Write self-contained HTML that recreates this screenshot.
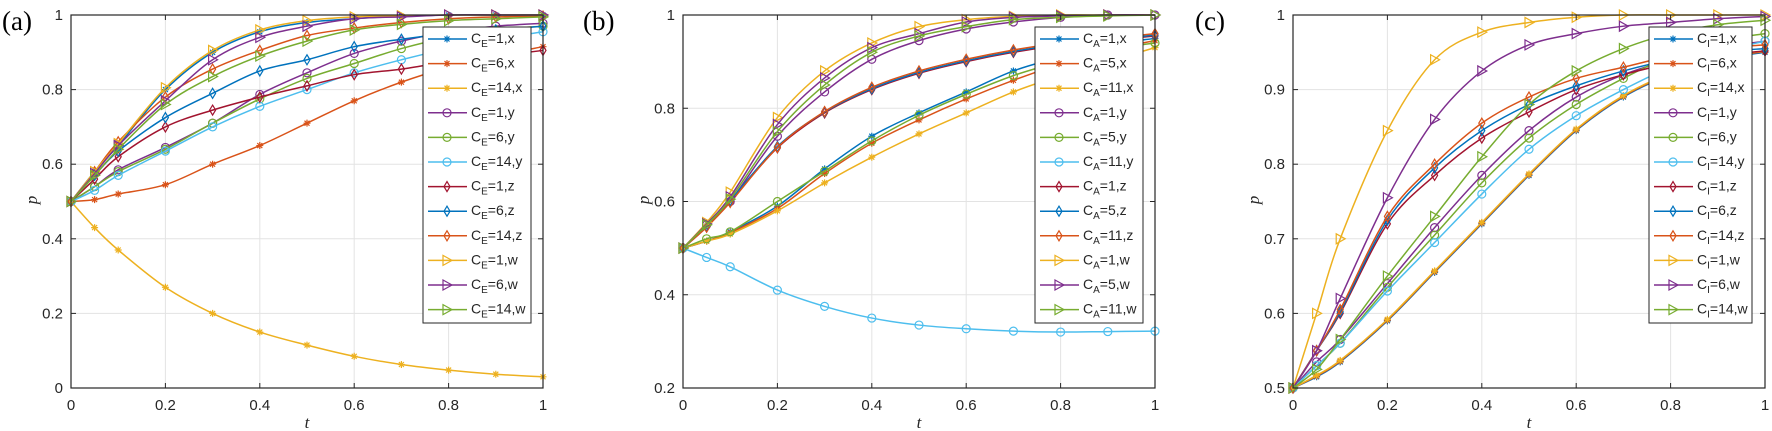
<!DOCTYPE html>
<html><head><meta charset="utf-8"><style>
body{margin:0;background:#fff;}
svg{display:block;font-family:"Liberation Sans",sans-serif;}
</style></head><body>
<svg id="chart" width="1772" height="431" viewBox="0 0 1772 431" xmlns="http://www.w3.org/2000/svg"></svg>
<script>
const tVals = [0,0.05,0.1,0.2,0.3,0.4,0.5,0.6,0.7,0.8,0.9,1];
const xTicks = [0,0.2,0.4,0.6,0.8,1];
const xTickLabels = ["0","0.2","0.4","0.6","0.8","1"];

const aLabels = ["1,x","6,x","14,x","1,y","6,y","14,y","1,z","6,z","14,z","1,w","6,w","14,w"];
const aYTicks = [0,0.2,0.4,0.6,0.8,1];
const aYTickLabels = ["0","0.2","0.4","0.6","0.8","1"];
const aSeries = [
 [0.5,0.58,0.65,0.80,0.90,0.955,0.98,0.99,0.997,1,1,1],
 [0.5,0.505,0.52,0.545,0.60,0.65,0.71,0.77,0.82,0.86,0.89,0.915],
 [0.5,0.43,0.37,0.27,0.20,0.15,0.115,0.085,0.063,0.048,0.037,0.03],
 [0.5,0.54,0.585,0.645,0.71,0.787,0.845,0.897,0.93,0.955,0.97,0.978],
 [0.5,0.54,0.58,0.64,0.71,0.775,0.83,0.87,0.91,0.94,0.96,0.97],
 [0.5,0.53,0.57,0.635,0.70,0.755,0.80,0.845,0.88,0.91,0.935,0.955],
 [0.5,0.56,0.62,0.70,0.745,0.78,0.81,0.84,0.855,0.875,0.89,0.905],
 [0.5,0.57,0.635,0.725,0.79,0.85,0.88,0.915,0.935,0.95,0.96,0.97],
 [0.5,0.58,0.66,0.78,0.855,0.905,0.945,0.965,0.98,0.99,0.995,0.997],
 [0.5,0.58,0.655,0.805,0.905,0.96,0.985,0.995,0.998,1,1,1],
 [0.5,0.575,0.65,0.77,0.88,0.94,0.97,0.99,0.995,1,1,1],
 [0.5,0.57,0.64,0.76,0.835,0.89,0.93,0.96,0.975,0.985,0.99,0.995]
];

const bLabels = ["1,x","5,x","11,x","1,y","5,y","11,y","1,z","5,z","11,z","1,w","5,w","11,w"];
const bYTicks = [0.2,0.4,0.6,0.8,1];
const bYTickLabels = ["0.2","0.4","0.6","0.8","1"];
const bSeries = [
 [0.5,0.515,0.535,0.59,0.67,0.74,0.79,0.835,0.88,0.91,0.935,0.95],
 [0.5,0.515,0.533,0.585,0.66,0.725,0.775,0.82,0.86,0.895,0.925,0.945],
 [0.5,0.515,0.53,0.58,0.64,0.695,0.745,0.79,0.835,0.87,0.90,0.93],
 [0.5,0.55,0.60,0.74,0.835,0.905,0.945,0.97,0.985,0.995,1,1],
 [0.5,0.52,0.535,0.60,0.665,0.73,0.785,0.83,0.87,0.90,0.925,0.94],
 [0.5,0.48,0.46,0.41,0.375,0.35,0.335,0.327,0.322,0.32,0.321,0.322],
 [0.5,0.545,0.60,0.715,0.79,0.84,0.875,0.90,0.92,0.935,0.945,0.955],
 [0.5,0.547,0.602,0.718,0.792,0.842,0.877,0.902,0.922,0.937,0.947,0.957],
 [0.5,0.545,0.598,0.716,0.793,0.845,0.88,0.905,0.925,0.94,0.95,0.96],
 [0.5,0.555,0.62,0.78,0.88,0.94,0.975,0.99,0.997,1,1,1],
 [0.5,0.552,0.61,0.765,0.865,0.93,0.96,0.985,0.995,0.998,1,1],
 [0.5,0.55,0.605,0.75,0.85,0.92,0.955,0.975,0.99,0.995,0.998,1]
];

const cLabels = ["1,x","6,x","14,x","1,y","6,y","14,y","1,z","6,z","14,z","1,w","6,w","14,w"];
const cYTicks = [0.5,0.6,0.7,0.8,0.9,1];
const cYTickLabels = ["0.5","0.6","0.7","0.8","0.9","1"];
const cSeries = [
 [0.5,0.515,0.535,0.59,0.655,0.72,0.785,0.845,0.89,0.92,0.94,0.95],
 [0.5,0.516,0.536,0.591,0.656,0.721,0.786,0.846,0.891,0.921,0.941,0.951],
 [0.5,0.517,0.537,0.592,0.657,0.722,0.787,0.847,0.892,0.922,0.942,0.952],
 [0.5,0.535,0.565,0.64,0.715,0.785,0.845,0.89,0.92,0.94,0.955,0.965],
 [0.5,0.53,0.56,0.635,0.705,0.775,0.835,0.88,0.915,0.945,0.965,0.975],
 [0.5,0.53,0.56,0.63,0.695,0.76,0.82,0.865,0.90,0.93,0.95,0.965],
 [0.5,0.55,0.6,0.72,0.785,0.835,0.87,0.90,0.92,0.935,0.945,0.952],
 [0.5,0.55,0.602,0.725,0.795,0.845,0.88,0.905,0.925,0.94,0.95,0.955],
 [0.5,0.55,0.605,0.73,0.80,0.855,0.89,0.915,0.93,0.945,0.955,0.96],
 [0.5,0.60,0.70,0.845,0.94,0.977,0.99,0.997,1,1,1,1],
 [0.5,0.55,0.62,0.755,0.86,0.925,0.96,0.975,0.985,0.99,0.995,0.998],
 [0.5,0.525,0.565,0.65,0.73,0.81,0.88,0.925,0.955,0.975,0.987,0.993]
];

const colors = ["#0072BD","#D95319","#EDB120","#7E2F8E","#77AC30","#4DBEEE","#A2142F","#0072BD","#D95319","#EDB120","#7E2F8E","#77AC30"];
const markers = ["star","star","star","circle","circle","circle","diamond","diamond","diamond","tri","tri","tri"];

const NS = "http://www.w3.org/2000/svg";
const svg = document.getElementById("chart");
function mk(tag, attrs, parent){ const e=document.createElementNS(NS,tag); for(const k in attrs) e.setAttribute(k,attrs[k]); (parent||svg).appendChild(e); return e; }

function smoothPath(pts){
  let d="M"+pts[0][0].toFixed(2)+","+pts[0][1].toFixed(2);
  for(let i=0;i<pts.length-1;i++){
    const p0=pts[Math.max(0,i-1)],p1=pts[i],p2=pts[i+1],p3=pts[Math.min(pts.length-1,i+2)];
    const c1x=p1[0]+(p2[0]-p0[0])/6,c1y=p1[1]+(p2[1]-p0[1])/6;
    const c2x=p2[0]-(p3[0]-p1[0])/6,c2y=p2[1]-(p3[1]-p1[1])/6;
    d+="C"+c1x.toFixed(2)+","+c1y.toFixed(2)+" "+c2x.toFixed(2)+","+c2y.toFixed(2)+" "+p2[0].toFixed(2)+","+p2[1].toFixed(2);
  }
  return d;
}
function drawMarker(type,x,y,color,g){
  let m;
  if(type==="circle") m=mk("circle",{cx:x,cy:y,r:4,fill:"none",stroke:color,"stroke-width":1.2},g);
  else if(type==="diamond") m=mk("polygon",{points:`${x},${y-5} ${x+3},${y} ${x},${y+5} ${x-3},${y}`,fill:"none",stroke:color,"stroke-width":1.2},g);
  else if(type==="tri") m=mk("polygon",{points:`${x-4},${y-5} ${x+5},${y} ${x-4},${y+5}`,fill:"none",stroke:color,"stroke-width":1.2},g);
  else m=mk("path",{d:`M${x-3.5},${y}H${x+3.5}M${x},${y-3.5}V${y+3.5}M${x-2.5},${y-2.5}L${x+2.5},${y+2.5}M${x-2.5},${y+2.5}L${x+2.5},${y-2.5}`,stroke:color,"stroke-width":1.2},g);
  
  
}

function panel(cfg){
  const L=cfg.left,R=cfg.left+472,T=15,B=388;
  const sx=t=>L+t*(R-L);
  const sy=v=>B-(v-cfg.ymin)/(cfg.ymax-cfg.ymin)*(B-T);
  const g=mk("g",{});
  
  
  mk("rect",{x:L,y:T,width:R-L,height:B-T,fill:"#fff"},g);
  const grid=mk("g",{},g);
  
  
  xTicks.forEach(t=>{ mk("line",{x1:sx(t),x2:sx(t),y1:T,y2:B,stroke:"#e3e3e3","stroke-width":1},grid); });
  cfg.yTicks.forEach(v=>{ mk("line",{x1:L,x2:R,y1:sy(v),y2:sy(v),stroke:"#e3e3e3","stroke-width":1},grid); });
  // series
  cfg.series.forEach((vals,si)=>{
    const sg=mk("g",{},g);
    
    
    const pts=tVals.map((t,i)=>[sx(t),sy(vals[i])]);
    const p=mk("path",{d:smoothPath(pts),fill:"none",stroke:colors[si],"stroke-width":1.5},sg);
    
    
    pts.forEach((pt,i)=>{ if(i%1===0) drawMarker(markers[si],pt[0],pt[1],colors[si],sg); });
  });
  // axes box
  const ax=mk("rect",{x:L,y:T,width:R-L,height:B-T,fill:"none",stroke:"#262626","stroke-width":1.2},g);
  
  
  xTicks.forEach((t,i)=>{
    mk("line",{x1:sx(t),x2:sx(t),y1:B,y2:B-5,stroke:"#262626"},g);
    mk("line",{x1:sx(t),x2:sx(t),y1:T,y2:T+5,stroke:"#262626"},g);
    const tx=mk("text",{x:sx(t),y:410,"text-anchor":"middle","font-size":15,fill:"#262626"},g);
    tx.textContent=xTickLabels[i];
    
    
  });
  cfg.yTicks.forEach((v,i)=>{
    mk("line",{x1:L,x2:L+5,y1:sy(v),y2:sy(v),stroke:"#262626"},g);
    mk("line",{x1:R,x2:R-5,y1:sy(v),y2:sy(v),stroke:"#262626"},g);
    const tx=mk("text",{x:L-8,y:sy(v)+5,"text-anchor":"end","font-size":15,fill:"#262626"},g);
    tx.textContent=cfg.yTickLabels[i];
    
    
  });
  const xl=mk("text",{x:(L+R)/2,y:428,"text-anchor":"middle","font-size":17,"font-style":"italic","font-family":"Liberation Serif, serif",fill:"#262626"},g);
  xl.textContent="t";
  
  
  const yl=mk("text",{x:L-34,y:200,"text-anchor":"middle","font-size":17,"font-style":"italic","font-family":"Liberation Serif, serif",fill:"#262626",transform:`rotate(-90 ${L-34} 200)`},g);
  yl.textContent="p";
  
  
  const pl=mk("text",{x:cfg.tagX,y:30,"font-size":27,"font-family":"Liberation Serif, serif",fill:"#000"},g);
  pl.textContent="("+cfg.id+")";
  
  
  // legend
  const lg=mk("g",{},g);
  
  
  const LX=cfg.legX, LW=cfg.legW;
  mk("rect",{x:LX,y:27,width:LW,height:296,fill:"#fff",stroke:"#262626","stroke-width":1},lg);
  cfg.labels.forEach((lab,i)=>{
    const y=39+i*24.6;
    const e=mk("g",{},lg);
    
    
    mk("line",{x1:LX+5,x2:LX+44,y1:y,y2:y,stroke:colors[i],"stroke-width":1.5},e);
    drawMarker(markers[i],LX+24,y,colors[i],e);
    const tx=mk("text",{x:LX+48,y:y+4,"font-size":14,fill:"#262626"},e);
    tx.textContent="C";
    const sub=mk("tspan",{"font-size":10,dy:4},tx); sub.textContent=cfg.sub;
    const rest=mk("tspan",{dy:-4},tx); rest.textContent="="+lab;
  });
}

panel({id:"a",left:71,ymin:0,ymax:1,yTicks:aYTicks,yTickLabels:aYTickLabels,series:aSeries,labels:aLabels,sub:"E",tagX:2,legX:423,legW:108});
panel({id:"b",left:683,ymin:0.2,ymax:1,yTicks:bYTicks,yTickLabels:bYTickLabels,series:bSeries,labels:bLabels,sub:"A",tagX:583,legX:1035,legW:108});
panel({id:"c",left:1293,ymin:0.5,ymax:1,yTicks:cYTicks,yTickLabels:cYTickLabels,series:cSeries,labels:cLabels,sub:"I",tagX:1195,legX:1649,legW:103});
</script>
</body></html>
